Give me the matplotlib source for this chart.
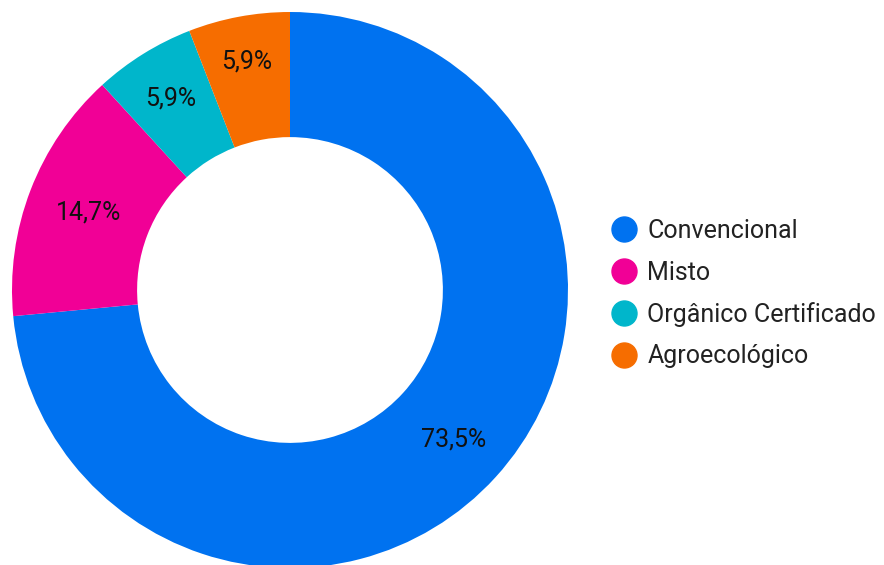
import matplotlib.pyplot as plt
from matplotlib.lines import Line2D
import numpy as np

plt.rcParams['font.family'] = ['Roboto', 'DejaVu Sans']

# dados
categorias = ['Convencional', 'Misto', 'Orgânico Certificado', 'Agroecológico']
valores = [73.5, 14.7, 5.9, 5.9]
rotulos = ['73,5%', '14,7%', '5,9%', '5,9%']
cores = ['#0072f0', '#f10096', '#00b6cb', '#f66d00']
# distancia de cada rotulo ao centro (fracao do raio)
dist_rotulo = [0.797, 0.777, 0.811, 0.838]

W, H = 884, 565
fig = plt.figure(figsize=(W / 100, H / 100), dpi=100)

# eixo da rosca: centro (290, 290) px, raio 278 px
cx, cy, r = 290, 290, 278
ax = fig.add_axes([(cx - r) / W, (H - cy - r) / H, 2 * r / W, 2 * r / H])

wedges, textos = ax.pie(valores, colors=cores, startangle=90, counterclock=False,
                        radius=1, wedgeprops=dict(width=0.45, linewidth=0))
ax.set_xlim(-1, 1)
ax.set_ylim(-1, 1)
ax.set_aspect('equal')
ax.axis('off')

for w, lab, rr in zip(wedges, rotulos, dist_rotulo):
    meio = np.deg2rad((w.theta1 + w.theta2) / 2)
    ax.text(rr * np.cos(meio), rr * np.sin(meio), lab, ha='center', va='center',
            fontsize=18, color='#111111')

# legenda
handles = [Line2D([0], [0], marker='o', linestyle='', markersize=18,
                  markerfacecolor=c, markeredgecolor=c) for c in cores]
fig.legend(handles, categorias, loc='upper left', bbox_to_anchor=(611 / W, 1 - 219 / H),
           frameon=False, fontsize=18, labelspacing=0.7, handletextpad=0.45,
           handlelength=1.0, borderpad=0, borderaxespad=0, labelcolor='#222222')

fig.savefig('out.png', dpi=100)
